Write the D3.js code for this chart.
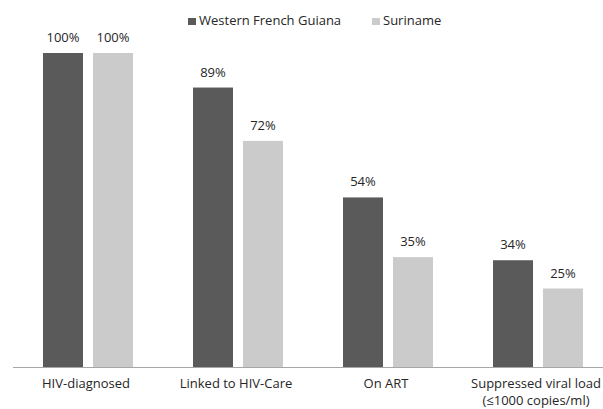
<!DOCTYPE html>
<html><head><meta charset="utf-8">
<script src="https://cdn.jsdelivr.net/npm/d3@7"></script>
<style>body{margin:0;background:#fff}svg{display:block}text{font-family:"Open Sans",sans-serif;fill:#262626}</style>
</head><body><svg id="c" width="603" height="409"></svg>
<script>
const categories = ["HIV-diagnosed", "Linked to HIV-Care", "On ART", "Suppressed viral load\n(≤1000 copies/ml)"];
const seriesNames = ["Western French Guiana", "Suriname"];
const westernFG = [100, 89, 54, 34];
const suriname = [100, 72, 35, 25];
const colors = ["#5a5a5a", "#cbcbcb"];

const svg = d3.select("#c");
const axisY = 367;
const x0 = d3.scaleBand().domain(categories).range([13, 613]).padding(0);
const x1 = d3.scaleBand().domain(seriesNames).range([30, 120]).paddingInner(0.2).paddingOuter(0);
const y = d3.scaleLinear().domain([0, 100]).range([axisY, 53]);

const seriesVals = [westernFG, suriname];
const rows = [];
categories.forEach((c, i) => seriesNames.forEach((s, j) => rows.push({c, s, j, v: seriesVals[j][i]})));

svg.selectAll("rect.bar").data(rows).enter().append("rect").attr("class", "bar")
  .attr("x", d => x0(d.c) + x1(d.s)).attr("width", x1.bandwidth())
  .attr("y", d => y(d.v)).attr("height", d => axisY - y(d.v))
  .attr("fill", d => colors[d.j]);

svg.selectAll("text.val").data(rows).enter().append("text").attr("class", "val")
  .attr("x", d => x0(d.c) + x1(d.s) + x1.bandwidth() / 2)
  .attr("y", d => y(d.v) - 11).attr("text-anchor", "middle").attr("font-size", 13)
  .text(d => d.v + "%");

// axis baseline
svg.append("line").attr("x1", 13).attr("x2", 603).attr("y1", axisY + 0.5).attr("y2", axisY + 0.5)
  .attr("stroke", "#a6a6a6").attr("stroke-width", 1);

// category labels
const cl = svg.selectAll("text.cat").data(categories).enter().append("text").attr("class", "cat")
  .attr("text-anchor", "middle").attr("font-size", 13)
  .attr("x", d => x0(d) + x0.bandwidth() / 2 - 2).attr("y", 388);
cl.each(function(d) {
  const lines = d.split("\n");
  const t = d3.select(this);
  lines.forEach((ln, k) => t.append("tspan").attr("x", t.attr("x")).attr("dy", k === 0 ? 0 : 17).text(ln));
});

// legend
const legX = [188, 372];
seriesNames.forEach((s, j) => {
  svg.append("rect").attr("x", legX[j]).attr("y", 18).attr("width", 8).attr("height", 7).attr("fill", colors[j]);
  svg.append("text").attr("x", legX[j] + 11).attr("y", 25).attr("font-size", 13).text(s);
});
</script></body></html>
